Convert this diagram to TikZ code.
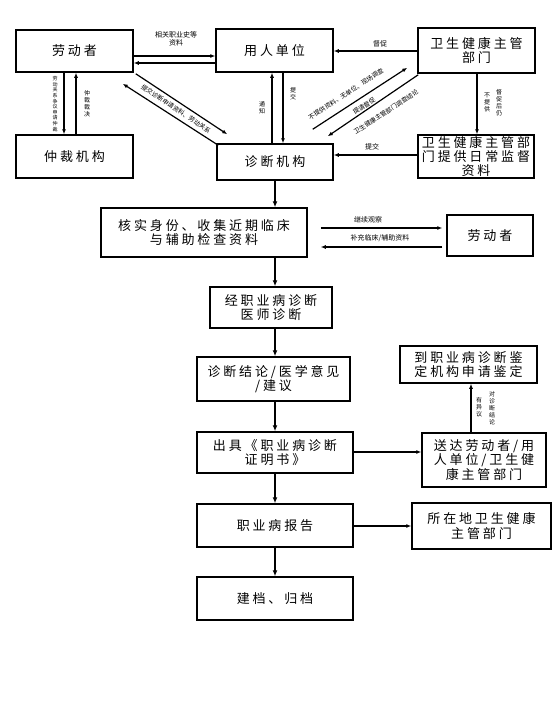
\documentclass[tikz,border=0pt]{standalone}
\usepackage{fontspec}
\usetikzlibrary{arrows.meta,calc}
\newfontfamily\cjkbox[LetterSpace=22]{Noto Sans CJK SC}
\newfontfamily\cjklab{Noto Sans CJK SC}
\newcommand\myboxfont{\cjkbox\fontsize{13}{14.2}\selectfont}
\newcommand\mylabfont{\cjklab\fontsize{7}{8}\selectfont}
\newcommand\mydiagfont{\cjklab\fontsize{6.3}{7}\selectfont}
\newcommand\myvfont{\cjklab\fontsize{6}{7}\selectfont}
\newcommand\myvsfont{\cjklab\fontsize{5}{5.6}\selectfont}
\begin{document}
\begin{tikzpicture}[x=1pt,y=-1pt,
  box/.style={draw=black, line width=1.5pt, inner sep=0pt, align=center, font=\myboxfont},
  arr/.style={draw=black, line width=1.2pt, -{Latex[length=5pt,width=4pt]}},
  marr/.style={draw=black, line width=2pt, -{Latex[length=6pt,width=5pt]}},
  lab/.style={inner sep=0pt, align=center, font=\mylabfont},
  dlab/.style={inner sep=0pt, align=center, font=\mydiagfont},
  vlab/.style={inner sep=0pt, align=center, font=\myvfont},
]
\fill[white] (0,0) rectangle (560,716);
\useasboundingbox (0,0) rectangle (560,716);
\coordinate (axis) at (275,0);

% boxes
\node[box, minimum width=117pt, minimum height=42pt] (ld) at (74.5,51) {劳动者};
\node[box, minimum width=117pt, minimum height=43pt] (yr) at (274.5,50.5) {用人单位};
\node[box, minimum width=117pt, minimum height=45pt] (wt) at (476.5,50.5) {卫生健康主管\\部门};
\node[box, minimum width=117pt, minimum height=43pt] (zc) at (74.5,156.5) {仲裁机构};
\node[box, minimum width=116pt, minimum height=36pt] (zd) at (275,162) {诊断机构};
\node[box, minimum width=116pt, minimum height=43pt] (wb) at (476,156.5) {卫生健康主管部\\门提供日常监督\\资料};
\node[box, minimum width=206pt, minimum height=49pt] (hs) at (204,232.5) {核实身份、收集近期临床\\与辅助检查资料};
\node[box, minimum width=86pt, minimum height=41pt] (ldb) at (490,235.5) {劳动者};
\node[box, minimum width=122pt, minimum height=41pt] (jz) at (271,307.5) {经职业病诊断\\医师诊断};
\node[box, minimum width=153pt, minimum height=44pt] (jl) at (273.5,379) {诊断结论/医学意见\\/建议};
\node[box, minimum width=137pt, minimum height=37pt] (jdjg) at (468.5,364.5) {到职业病诊断鉴\\定机构申请鉴定};
\node[box, minimum width=156pt, minimum height=41pt] (cj) at (275,452.5) {出具《职业病诊断\\证明书》};
\node[box, minimum width=124pt, minimum height=54pt] (sd) at (484,460) {送达劳动者/用\\人单位/卫生健\\康主管部门};
\node[box, minimum width=156pt, minimum height=43pt] (bg) at (275,525.5) {职业病报告};
\node[box, minimum width=139pt, minimum height=46pt] (szd) at (481.5,526) {所在地卫生健康\\主管部门};
\node[box, minimum width=156pt, minimum height=43pt] (jd) at (275,598.5) {建档、归档};

% top row connectors
\draw[arr] (ld.east |- 0,56) -- (yr.west |- 0,56);
\draw[arr] (yr.west |- 0,63) -- (ld.east |- 0,63);
\node[lab] (l1) at (176,39) {相关职业史等\\资料};

\draw[arr] (ld.south -| 64,0) -- (zc.north -| 64,0);
\draw[arr] (zc.north -| 76,0) -- (ld.south -| 76,0);
\node[vlab, font=\myvsfont] (l2) at (55,104) {劳\\动\\关\\系\\争\\议\\申\\请\\仲\\裁};
\node[vlab] (l3) at (87,104) {仲\\裁\\裁\\决};

% diagonal worker <-> diagnosis
\draw[arr] ($(ld.south east)+(2,1)$) -- ($(zd.north west)+(11,-9)$);
\draw[arr] ($(zd.north west)+(2,2)$) -- ($(ld.south east)+(-11,11)$);
\node[dlab, rotate=-33.7] (l4) at (176,109) {提交诊断申请资料、劳动关系};

% employer <-> diagnosis
\draw[arr] (zd.north -| 272,0) -- (yr.south -| 272,0);
\draw[arr] (yr.south -| 283,0) -- (zd.north -| 283,0);
\node[vlab] (l5) at (262,108) {通\\知};
\node[vlab] (l6) at (293,94) {提\\交};

% health dept -> employer
\draw[arr] (wt.west |- 0,51) -- (yr.east |- 0,51);
\node[lab] (l7) at (380,44) {督促};

% diagonals diagnosis <-> health dept
\draw[arr] ($(zd.north east)+(-21,-14)$) -- ($(wt.south west)+(-10,-6)$);
\draw[arr] ($(wt.south west)+(1,1)$) -- ($(zd.north east)+(-6,-7)$);
\node[dlab, rotate=33.3] (l8) at (346,94) {不提供资料、无单位、现场调查};
\node[dlab, rotate=33.3] (l9) at (364,106) {提请督促};
\node[dlab, rotate=33.3] (l10) at (386,112) {卫生健康主管部门调查结论};

% health dept top -> bottom
\draw[arr] (wt.south -| 477,0) -- (wb.north -| 477,0);
\node[vlab] (l11) at (487,102) {不\\提\\供};
\node[vlab] (l12) at (499,103) {督\\促\\后\\仍};

% health dept bottom -> diagnosis
\draw[arr] (wb.west |- 0,155) -- (zd.east |- 0,155);
\node[lab] (l13) at (372,147) {提交};

% main vertical flow
\draw[marr] (zd.south -| axis) -- (hs.north -| axis);
\draw[marr] (hs.south -| axis) -- (jz.north -| axis);
\draw[marr] (jz.south -| axis) -- (jl.north -| axis);
\draw[marr] (jl.south -| axis) -- (cj.north -| axis);
\draw[marr] (cj.south -| axis) -- (bg.north -| axis);
\draw[marr] (bg.south -| axis) -- (jd.north -| axis);

% core <-> worker
\draw[arr] ($(hs.east |- 0,228)+(13,0)$) -- ($(ldb.west |- 0,228)+(-4,0)$);
\draw[arr] ($(ldb.west |- 0,247)+(-4,0)$) -- ($(hs.east |- 0,247)+(13,0)$);
\node[lab] (l14) at (368,220) {继续观察};
\node[lab] (l15) at (380,238) {补充临床/辅助资料};

% certificate -> delivery
\draw[arr] (cj.east |- 0,452) -- (sd.west |- 0,452);
\draw[arr] (sd.north -| 471,0) -- (jdjg.south -| 471,0);
\node[vlab] (l16) at (479,407) {有\\异\\议};
\node[vlab] (l17) at (492,408) {对\\诊\\断\\结\\论};

% report -> local dept
\draw[arr] (bg.east |- 0,526) -- (szd.west |- 0,526);
\end{tikzpicture}
\end{document}
